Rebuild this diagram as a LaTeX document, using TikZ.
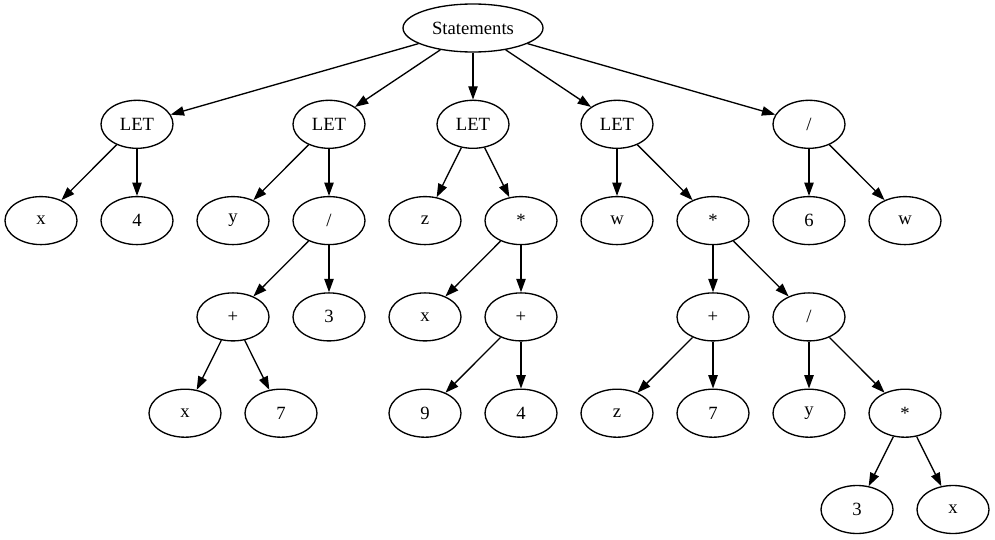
\documentclass[tikz,border=0pt]{standalone}
\usepackage{fontspec}
\setmainfont{Liberation Serif}
\usetikzlibrary{shapes.geometric,arrows.meta}
\begin{document}
\begin{tikzpicture}[x=0.75pt,y=-0.75pt,
  tnode/.style={draw=black,line width=1pt,ellipse,inner sep=0pt,
    minimum width=54pt,minimum height=36pt,font=\fontsize{14}{16}\selectfont},
  wide/.style={minimum width=105pt},
  edge/.style={line width=1pt,-{Triangle[length=10pt,width=7pt]}}]
\useasboundingbox (0,0) rectangle (995,539);
% root
\node[tnode,wide] (s) at (473,28) {Statements};
% first statement
\node[tnode] (l1) at (137,124.3) {LET};
\node[tnode] (a1) at (41,220.6) {x};
\node[tnode] (a2) at (137,220.6) {4};
% second statement
\node[tnode] (l2) at (329,124.3) {LET};
\node[tnode] (b1) at (233,220.6) {y};
\node[tnode] (b2) at (329,220.6) {/};
\node[tnode] (b3) at (233,316.9) {+};
\node[tnode] (b4) at (329,316.9) {3};
\node[tnode] (b5) at (185,413.2) {x};
\node[tnode] (b6) at (281,413.2) {7};
% third statement
\node[tnode] (l3) at (473,124.3) {LET};
\node[tnode] (c1) at (425,220.6) {z};
\node[tnode] (c2) at (521,220.6) {*};
\node[tnode] (c3) at (425,316.9) {x};
\node[tnode] (c4) at (521,316.9) {+};
\node[tnode] (c5) at (425,413.2) {9};
\node[tnode] (c6) at (521,413.2) {4};
% fourth statement
\node[tnode] (l4) at (617,124.3) {LET};
\node[tnode] (d1) at (617,220.6) {w};
\node[tnode] (d2) at (713,220.6) {*};
\node[tnode] (d3) at (713,316.9) {+};
\node[tnode] (d4) at (809,316.9) {/};
\node[tnode] (d5) at (617,413.2) {z};
\node[tnode] (d6) at (713,413.2) {7};
\node[tnode] (d7) at (809,413.2) {y};
\node[tnode] (d8) at (905,413.2) {*};
\node[tnode] (d9) at (857,509.5) {3};
\node[tnode] (d10) at (953,509.5) {x};
% fifth statement
\node[tnode] (l5) at (809,124.3) {/};
\node[tnode] (e1) at (809,220.6) {6};
\node[tnode] (e2) at (905,220.6) {w};
% edges
\foreach \p/\c in {s/l1,s/l2,s/l3,s/l4,s/l5,
  l1/a1,l1/a2,
  l2/b1,l2/b2,b2/b3,b2/b4,b3/b5,b3/b6,
  l3/c1,l3/c2,c2/c3,c2/c4,c4/c5,c4/c6,
  l4/d1,l4/d2,d2/d3,d2/d4,d3/d5,d3/d6,d4/d7,d4/d8,d8/d9,d8/d10,
  l5/e1,l5/e2}
  \draw[edge] (\p) -- (\c);
\end{tikzpicture}
\end{document}
